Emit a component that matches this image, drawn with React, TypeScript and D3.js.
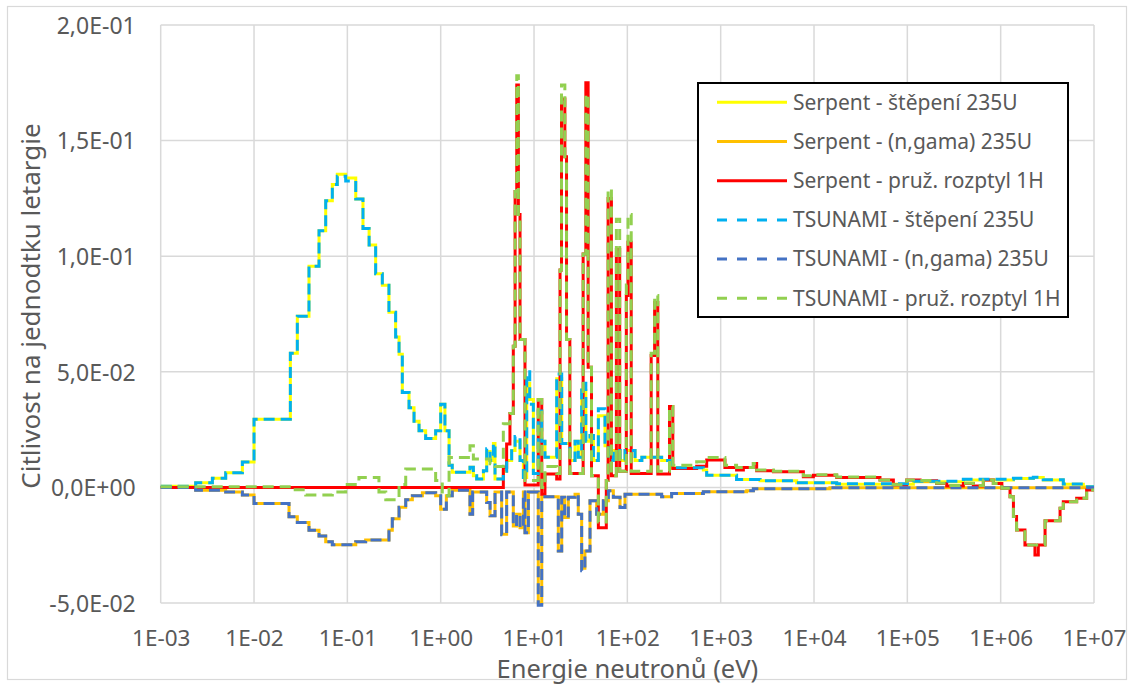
import * as d3 from "d3";
import React, { useEffect, useRef } from "react";

// energy [eV] (lower edge of the group) and sensitivity per unit lethargy
const serpentFission: [number, number][] = [
  [1e-3, 0.0005], [2.37e-3, 0.002], [3.58e-3, 0.004], [4.97e-3, 0.0063], [7.5e-3, 0.011],
  [0.01, 0.0295], [0.0245, 0.058], [0.0291, 0.074], [0.0388, 0.0957], [0.0497, 0.111],
  [0.0586, 0.124], [0.069, 0.131], [0.078, 0.1354], [0.096, 0.1338], [0.123, 0.1247],
  [0.147, 0.112], [0.171, 0.1048], [0.201, 0.0924], [0.237, 0.0874], [0.279, 0.0758],
  [0.329, 0.065], [0.358, 0.0576], [0.388, 0.041], [0.458, 0.0344], [0.518, 0.0286],
  [0.586, 0.0245], [0.69, 0.0212], [0.883, 0.0245], [1.0, 0.036], [1.11, 0.0245],
  [1.23, 0.0096], [1.33, 0.0065], [2.06, 0.0087], [2.24, 0.005], [2.43, 0.0036],
  [2.87, 0.0072], [3.11, 0.0155], [3.38, 0.0116], [3.67, 0.019], [3.82, 0.0036],
  [4.69, 0.007], [5.09, 0.0116], [5.76, 0.016], [6.26, 0.02], [7.08, 0.0116], [7.69, 0.0043],
  [8.35, 0.045], [9.0, 0.038], [9.84, 0.006], [11.1, 0.033], [12.1, 0.02], [13.1, 0.013],
  [17.5, 0.047], [19.8, 0.019], [24.3, 0.0116], [27.5, 0.02], [29.8, 0.013], [32.4, 0.042],
  [35.9, 0.02], [39.8, 0.0225], [43.3, 0.0116], [48.9, 0.031], [57.6, 0.018], [62.6, 0.0116],
  [70.8, 0.016], [83.5, 0.0116], [94.4, 0.016], [121, 0.0116], [143, 0.013], [233, 0.0116],
  [298, 0.0085], [652, 0.0075], [708, 0.0053], [1480, 0.0034], [2640, 0.0029], [6520, 0.002],
  [17500, 0.0014], [116000, 0.0024], [398000, 0.0032], [1.37e6, 0.0039], [2.24e6, 0.0043],
  [2.86e6, 0.0032], [4.69e6, 0.0014], [7.69e6, 0.0003], [1e7, 0.0003],
];

const serpentCapture: [number, number][] = [
  [1e-3, 0], [2.37e-3, -0.0012], [4.97e-3, -0.002], [7.5e-3, -0.0033], [0.01, -0.007],
  [0.0237, -0.0127], [0.0291, -0.0152], [0.0388, -0.0185], [0.0497, -0.021], [0.0586, -0.0235],
  [0.069, -0.0248], [0.123, -0.0235], [0.157, -0.0227], [0.279, -0.0185], [0.303, -0.0136],
  [0.358, -0.0086], [0.422, -0.0053], [0.497, -0.0036], [0.637, -0.0023], [0.883, -0.0036],
  [1.0, -0.0094], [1.15, -0.0036], [1.33, -0.0012], [2.06, -0.0116], [2.2, -0.002],
  [3.11, -0.0065], [3.38, -0.0123], [3.82, -0.002], [4.5, -0.0203], [5.09, -0.002],
  [6.0, -0.0167], [6.5, -0.0116], [7.08, -0.0174], [7.69, -0.002], [8.0, -0.0196],
  [8.7, -0.002], [11.1, -0.05], [12.1, -0.004], [18.2, -0.0275], [19.8, -0.0043],
  [21.3, -0.013], [23.3, -0.0043], [27.5, -0.003], [29.8, -0.0116], [32.4, -0.035],
  [35.1, -0.0275], [39.8, -0.0058], [46.9, -0.0116], [55.3, -0.0058], [62.6, -0.0015],
  [70.8, -0.0043], [83.5, -0.0087], [94.4, -0.003], [233, -0.004], [298, -0.0026],
  [652, -0.0019], [1900, -0.0014], [2240, -0.0006], [14800, -0.0002], [1e7, -0.0002],
];

const serpentScatter: [number, number][] = [
  [1e-3, 0], [4.69, 0.0087], [5.09, 0.0188], [5.52, 0.032], [6.0, 0.061], [6.27, 0.128],
  [6.53, 0.174], [6.8, 0.118], [7.08, 0.064], [8.0, 0.001], [11.1, 0.038], [12.1, -0.003],
  [13.1, 0.0058], [17.5, 0.0036], [19.0, 0.094], [19.7, 0.168], [21.4, 0.143], [22.3, 0.064],
  [24.2, 0.006], [33.6, 0.101], [35.9, 0.175], [38.0, 0.052], [41.3, 0.005], [48.9, -0.0174],
  [59.5, 0.003], [62.2, 0.125], [67.5, 0.005], [76.3, 0.103], [82.8, 0.007], [97.5, 0.083],
  [101.6, 0.106], [110, 0.006], [180, 0.057], [196, 0.08], [212, 0.0058], [283, 0.035],
  [307, 0.0082], [553, 0.0092], [708, 0.0118], [1110, 0.0086], [1480, 0.0075], [1750, 0.0086],
  [2240, 0.0103], [2430, 0.0072], [3670, 0.0068], [7690, 0.0046], [9840, 0.0053],
  [17500, 0.0043], [50900, 0.0032], [70800, 0.001], [98400, 0.0032], [137000, 0.0029],
  [206000, 0.0017], [264000, 0.0006], [398000, 0.0017], [509000, 0.0006], [652000, 0.0032],
  [834000, 0.0017], [1.03e6, -0.0004], [1.26e6, -0.004], [1.37e6, -0.0126],
  [1.48e6, -0.0184], [1.82e6, -0.0249], [2.33e6, -0.0292], [2.53e6, -0.0249],
  [2.99e6, -0.0144], [4.33e6, -0.009], [4.69e6, -0.0062], [6.52e6, -0.0047],
  [8.34e6, -0.0011], [1e7, -0.0011],
];

const tsunamiFission: [number, number][] = [
  [1e-3, 0.0005], [2.37e-3, 0.002], [3.58e-3, 0.004], [4.97e-3, 0.0063], [7.5e-3, 0.011],
  [0.01, 0.0295], [0.0245, 0.058], [0.0291, 0.074], [0.0388, 0.0957], [0.0497, 0.111],
  [0.0586, 0.124], [0.069, 0.131], [0.078, 0.1346], [0.096, 0.1325], [0.123, 0.1247],
  [0.147, 0.112], [0.171, 0.1048], [0.201, 0.0924], [0.237, 0.0874], [0.279, 0.0758],
  [0.329, 0.065], [0.358, 0.0576], [0.388, 0.041], [0.458, 0.0344], [0.518, 0.0286],
  [0.586, 0.0245], [0.69, 0.0212], [0.883, 0.0245], [1.0, 0.036], [1.11, 0.0245],
  [1.23, 0.0096], [1.33, 0.0065], [2.06, 0.0087], [2.24, 0.005], [2.43, 0.0036],
  [2.87, 0.0072], [3.11, 0.0167], [3.38, 0.0116], [3.67, 0.019], [3.82, 0.0036],
  [4.69, 0.007], [5.09, 0.0116], [5.76, 0.017], [6.26, 0.022], [7.08, 0.0116], [7.69, 0.0043],
  [8.35, 0.05], [9.0, 0.036], [9.84, 0.006], [11.1, 0.033], [12.1, 0.02], [13.1, 0.013],
  [17.5, 0.049], [19.8, 0.019], [24.3, 0.0116], [27.5, 0.02], [29.8, 0.013], [32.4, 0.045],
  [35.9, 0.02], [39.8, 0.0225], [43.3, 0.0116], [48.9, 0.034], [57.6, 0.018], [62.6, 0.0116],
  [70.8, 0.016], [83.5, 0.0116], [94.4, 0.016], [121, 0.0116], [143, 0.013], [233, 0.0116],
  [298, 0.0085], [652, 0.0075], [708, 0.0053], [1480, 0.0034], [2640, 0.0029], [6520, 0.002],
  [17500, 0.0016], [116000, 0.0027], [398000, 0.0035], [1.37e6, 0.004], [2.24e6, 0.0044],
  [2.86e6, 0.0033], [4.69e6, 0.0015], [7.69e6, 0.0003], [1e7, 0.0003],
];

const tsunamiCapture: [number, number][] = [
  [1e-3, 0], [2.37e-3, -0.0012], [4.97e-3, -0.002], [7.5e-3, -0.0033], [0.01, -0.007],
  [0.0237, -0.0127], [0.0291, -0.0152], [0.0388, -0.0185], [0.0497, -0.021], [0.0586, -0.0235],
  [0.069, -0.0248], [0.123, -0.0235], [0.157, -0.0227], [0.279, -0.0185], [0.303, -0.0136],
  [0.358, -0.0086], [0.422, -0.0053], [0.497, -0.0036], [0.637, -0.0023], [0.883, -0.0036],
  [1.0, -0.0094], [1.15, -0.0036], [1.33, -0.0012], [2.06, -0.0116], [2.2, -0.002],
  [3.11, -0.0065], [3.38, -0.0123], [3.82, -0.002], [4.5, -0.0205], [5.09, -0.002],
  [6.0, -0.0167], [6.5, -0.0116], [7.08, -0.0174], [7.69, -0.002], [8.0, -0.0196],
  [8.7, -0.002], [11.1, -0.051], [12.1, -0.004], [18.2, -0.0275], [19.8, -0.0043],
  [21.3, -0.013], [23.3, -0.0043], [27.5, -0.003], [29.8, -0.0116], [32.4, -0.036],
  [35.1, -0.0275], [39.8, -0.0058], [46.9, -0.0116], [55.3, -0.0058], [62.6, -0.0015],
  [70.8, -0.0043], [83.5, -0.0087], [94.4, -0.003], [233, -0.004], [298, -0.0026],
  [652, -0.0019], [1900, -0.0014], [2240, -0.0006], [14800, -0.0002], [1e7, -0.0002],
];

const tsunamiScatter: [number, number][] = [
  [1e-3, 0.0003], [0.0258, -0.001], [0.0358, -0.0033], [0.069, -0.002], [0.096, 0.0013],
  [0.133, 0.0043], [0.218, -0.002], [0.258, -0.0053], [0.358, 0.0013], [0.422, 0.008],
  [0.883, 0.003], [1.04, -0.0036], [1.23, 0.0129], [2.06, 0.018], [2.24, 0.0123],
  [3.38, 0.0102], [3.82, 0.009], [4.69, 0.0275], [5.52, 0.032], [6.0, 0.061], [6.27, 0.128],
  [6.53, 0.178], [6.8, 0.118], [7.08, 0.064], [8.0, 0.003], [11.1, 0.038], [12.1, 0.0],
  [13.1, 0.009], [17.5, 0.006], [19.0, 0.094], [19.7, 0.174], [21.4, 0.143], [22.3, 0.064],
  [24.2, 0.006], [33.6, 0.101], [35.9, 0.17], [38.0, 0.052], [41.3, 0.005], [48.9, -0.015],
  [59.5, 0.003], [62.2, 0.129], [67.5, 0.005], [76.3, 0.116], [82.8, 0.007], [97.5, 0.0875],
  [101.6, 0.118], [110, 0.007], [180, 0.058], [196, 0.083], [212, 0.007], [283, 0.035],
  [307, 0.0096], [553, 0.0111], [708, 0.0129], [1110, 0.0096], [1480, 0.0086],
  [2240, 0.0103], [2430, 0.0075], [3670, 0.007], [7690, 0.005], [9840, 0.0055],
  [17500, 0.0045], [50900, 0.0032], [70800, 0.0012], [98400, 0.0032], [137000, 0.003],
  [206000, 0.0018], [264000, 0.0008], [398000, 0.0018], [509000, 0.0008], [652000, 0.0032],
  [834000, 0.0017], [1.03e6, -0.0004], [1.26e6, -0.004], [1.37e6, -0.0126],
  [1.48e6, -0.0184], [1.82e6, -0.0249], [2.99e6, -0.0144], [4.33e6, -0.009],
  [4.69e6, -0.0062], [6.52e6, -0.0047], [8.34e6, -0.0011], [1e7, -0.0011],
];

const xTicks = [1e-3, 1e-2, 1e-1, 1e0, 1e1, 1e2, 1e3, 1e4, 1e5, 1e6, 1e7];
const yTicks = [-0.05, 0, 0.05, 0.1, 0.15, 0.2];

const seriesNames = [
  "Serpent - štěpení 235U",
  "Serpent - (n,gama) 235U",
  "Serpent - pruž. rozptyl 1H",
  "TSUNAMI - štěpení 235U",
  "TSUNAMI - (n,gama) 235U",
  "TSUNAMI - pruž. rozptyl 1H",
];
const seriesData = [serpentFission, serpentCapture, serpentScatter, tsunamiFission, tsunamiCapture, tsunamiScatter];
const seriesColors = ["#FFFF00", "#FFC000", "#FF0000", "#00B0F0", "#4472C4", "#92D050"];

const font = "'Noto Sans', sans-serif";
const textColor = "#595959";

function fmtY(v: number) {
  const [m, e] = v.toExponential(1).split("e");
  const n = +e;
  return m.replace(".", ",") + "E" + (n < 0 ? "-" : "+") + String(Math.abs(n)).padStart(2, "0");
}
function fmtX(v: number) {
  const n = Math.round(Math.log10(v));
  return "1E" + (n < 0 ? "-" : "+") + String(Math.abs(n)).padStart(2, "0");
}

export default function App() {
  const svgRef = useRef<SVGSVGElement>(null);
  const w = 1134;
  const h = 686;

  useEffect(() => {
    const svg = d3.select(svgRef.current);
    svg.selectAll("*").remove();

    const xScale = d3.scaleLog().domain([1e-3, 1e7]).range([160.7, 1094]);
    const yScale = d3.scaleLinear().domain([-0.05, 0.2]).range([603, 25]);
    const [x0, x1] = xScale.range();
    const [y0, y1] = yScale.range();

    svg.append("rect").attr("width", w).attr("height", h).attr("fill", "#fff");
    svg.append("rect")
      .attr("x", 7.5).attr("y", 6.5).attr("width", 1119).attr("height", 673)
      .attr("fill", "none").attr("stroke", "#d9d9d9").attr("stroke-width", 1.2);

    // grid
    svg.append("g").selectAll("line").data(yTicks).enter().append("line")
      .attr("x1", x0).attr("x2", x1)
      .attr("y1", (d) => yScale(d)).attr("y2", (d) => yScale(d))
      .attr("stroke", "#d9d9d9").attr("stroke-width", 1.5);
    svg.append("g").selectAll("line").data(xTicks).enter().append("line")
      .attr("y1", y0).attr("y2", y1)
      .attr("x1", (d) => xScale(d)).attr("x2", (d) => xScale(d))
      .attr("stroke", "#d9d9d9").attr("stroke-width", 1.5);

    // axes
    const yAxis = d3.axisLeft(yScale).tickValues(yTicks).tickSize(0).tickPadding(25).tickFormat((d) => fmtY(+d));
    const gy = svg.append("g").attr("transform", "translate(" + x0 + ",0)").call(yAxis);
    gy.select(".domain").remove();
    gy.attr("font-family", font).attr("font-size", 23);
    gy.selectAll("text").attr("fill", textColor).attr("dy", "0.36em");

    const xAxis = d3.axisBottom(xScale).tickValues(xTicks).tickSize(0).tickPadding(27).tickFormat((d) => fmtX(+d));
    const gx = svg.append("g").attr("transform", "translate(0," + y0 + ")").call(xAxis);
    gx.select(".domain").remove();
    gx.attr("font-family", font).attr("font-size", 22.5);
    gx.selectAll("text").attr("fill", textColor);

    // lines
    const line = d3.line<[number, number]>()
      .x((d) => xScale(d[0]))
      .y((d) => yScale(d[1]))
      .curve(d3.curveStepAfter);

    seriesData.forEach((data, i) => {
      svg.append("path")
        .datum(data)
        .attr("d", line)
        .attr("fill", "none")
        .attr("stroke", seriesColors[i])
        .attr("stroke-width", 3)
        .attr("stroke-dasharray", i >= 3 ? "11,6" : null);
    });

    // axis titles
    svg.append("text")
      .attr("x", (x0 + x1) / 2).attr("y", 678)
      .attr("text-anchor", "middle")
      .attr("font-family", font).attr("font-size", 25.5).attr("fill", textColor)
      .text("Energie neutronů (eV)");
    svg.append("text")
      .attr("transform", "translate(40,306) rotate(-90)")
      .attr("text-anchor", "middle")
      .attr("font-family", font).attr("font-size", 26).attr("fill", textColor)
      .text("Citlivost na jednodtku letargie");

    // legend
    const legend = svg.append("g");
    legend.append("rect")
      .attr("x", 698).attr("y", 83).attr("width", 370).attr("height", 234)
      .attr("fill", "#fff").attr("stroke", "#000").attr("stroke-width", 2);
    seriesNames.forEach((name, i) => {
      const ly = 102.3 + i * 39.2;
      legend.append("line")
        .attr("x1", 717).attr("x2", 787).attr("y1", ly).attr("y2", ly)
        .attr("stroke", seriesColors[i]).attr("stroke-width", 3)
        .attr("stroke-dasharray", i >= 3 ? "10,10" : null);
      legend.append("text")
        .attr("x", 793).attr("y", ly).attr("dy", "0.35em")
        .attr("font-family", font).attr("font-size", 21).attr("fill", textColor)
        .text(name);
    });
  }, []);

  return (
    <svg
      ref={svgRef}
      width={w}
      height={h}
      style={{ position: "absolute", left: 0, top: 0 }}
    />
  );
}
